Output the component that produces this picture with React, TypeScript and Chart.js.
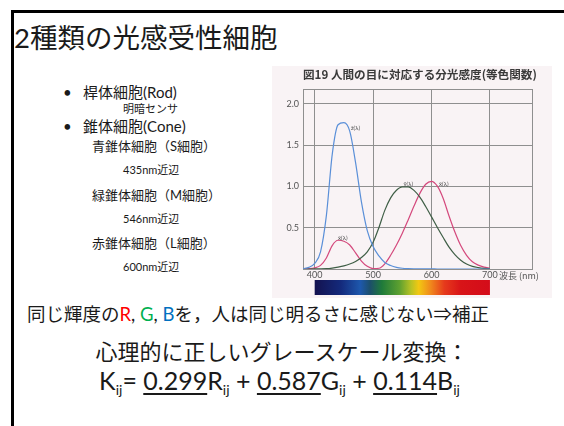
import React, { useEffect, useRef } from "react";
import { Chart, registerables } from "chart.js";

Chart.register(...registerables);

// ---- data ----
const WAVELENGTHS = [380, 390, 400, 410, 420, 430, 440, 450, 460, 470, 480, 490, 500, 510, 520, 530, 540, 550, 560, 570, 580, 590, 600, 610, 620, 630, 640, 650, 660, 670, 680, 690, 700];
const X_BAR = [0.001, 0.004, 0.014, 0.044, 0.134, 0.284, 0.348, 0.336, 0.291, 0.195, 0.096, 0.032, 0.005, 0.009, 0.063, 0.166, 0.29, 0.433, 0.594, 0.762, 0.916, 1.026, 1.062, 1.003, 0.854, 0.642, 0.448, 0.284, 0.165, 0.087, 0.047, 0.023, 0.011];
const Y_BAR = [0, 0.0001, 0.0004, 0.0012, 0.004, 0.0116, 0.023, 0.038, 0.06, 0.091, 0.139, 0.208, 0.323, 0.503, 0.71, 0.862, 0.954, 0.995, 0.995, 0.952, 0.87, 0.757, 0.631, 0.503, 0.381, 0.265, 0.175, 0.107, 0.061, 0.032, 0.017, 0.008, 0.004];
const Z_BAR = [0.006, 0.02, 0.068, 0.207, 0.646, 1.386, 1.747, 1.772, 1.669, 1.288, 0.813, 0.465, 0.272, 0.158, 0.078, 0.042, 0.02, 0.009, 0.004, 0.002, 0.002, 0.001, 0.001, 0, 0, 0, 0, 0, 0, 0, 0, 0, 0];
const X_TICKS = [400, 500, 600, 700];
const Y_TICKS = [0.5, 1.0, 1.5, 2.0];
const X_MIN = 380;
const X_MAX = 772;
const Y_MIN = 0;
const Y_MAX = 2.18;
const CURVE_LABELS = [
  { text: "z̄(λ)", x: 462, y: 1.71 },
  { text: "ȳ(λ)", x: 552, y: 1.03 },
  { text: "x̄(λ)", x: 613, y: 1.03 },
  { text: "x̄(λ)", x: 440, y: 0.38 },
];
const CHART_TITLE = "図19 人間の目に対応する分光感度(等色関数)";
const AXIS_UNIT = "波長 (nm)";
const SPECTRUM_FROM = 400;
const SPECTRUM_TO = 700;
const SPECTRUM_STOPS: [number, string][] = [
  [400, "#14124f"],
  [445, "#142a7c"],
  [478, "#1e58ad"],
  [495, "#1c4f6a"],
  [515, "#1f7a3a"],
  [545, "#5da030"],
  [565, "#b8c224"],
  [578, "#f2c812"],
  [598, "#f08a1c"],
  [622, "#e63a1c"],
  [650, "#d81418"],
  [700, "#d40c1a"],
];

const CJK = '"Noto Sans CJK JP", sans-serif';
const LATIN = 'Lato, "Noto Sans CJK JP", sans-serif';

const overlayPlugin = {
  id: "overlay",
  beforeDraw(chart: any) {
    const ctx = chart.ctx;
    ctx.save();
    ctx.fillStyle = "#f9f3f5";
    ctx.fillRect(0, 0, chart.width, chart.height);
    ctx.restore();
  },
  afterDraw(chart: any) {
    const ctx = chart.ctx;
    const xs = chart.scales.x;
    const ys = chart.scales.y;
    const area = chart.chartArea;
    ctx.save();
    // title
    ctx.fillStyle = "#3a3a3a";
    ctx.font = `bold 11.6px ${CJK}`;
    ctx.textBaseline = "middle";
    ctx.textAlign = "left";
    ctx.fillText(CHART_TITLE, area.left, 9);
    // curve labels
    ctx.fillStyle = "#555";
    ctx.font = `6px ${LATIN}`;
    ctx.textAlign = "left";
    for (const l of CURVE_LABELS) {
      ctx.fillText(l.text, xs.getPixelForValue(l.x), ys.getPixelForValue(l.y));
    }
    // axis unit
    ctx.fillStyle = "#555";
    ctx.font = `9px ${CJK}`;
    ctx.textBaseline = "middle";
    ctx.fillText(AXIS_UNIT, xs.getPixelForValue(700) + 9, area.bottom + 7);
    // spectrum bar
    const x0 = xs.getPixelForValue(SPECTRUM_FROM);
    const x1 = xs.getPixelForValue(SPECTRUM_TO);
    const grad = ctx.createLinearGradient(x0, 0, x1, 0);
    for (const [w, c] of SPECTRUM_STOPS) {
      grad.addColorStop((w - SPECTRUM_FROM) / (SPECTRUM_TO - SPECTRUM_FROM), c);
    }
    ctx.fillStyle = grad;
    ctx.fillRect(x0, area.bottom + 11, x1 - x0, 15);
    ctx.restore();
  },
};

function SpectralChart() {
  const ref = useRef<HTMLCanvasElement | null>(null);
  useEffect(() => {
    if (!ref.current) return;
    const mk = (vals: number[]) => WAVELENGTHS.map((w, i) => ({ x: w, y: vals[i] }));
    const common = { pointRadius: 0, borderWidth: 1.2, fill: false, cubicInterpolationMode: "monotone" as const };
    const chart = new Chart(ref.current, {
      type: "line",
      data: {
        datasets: [
          { ...common, data: mk(Z_BAR), borderColor: "#5a8fd8" },
          { ...common, data: mk(Y_BAR), borderColor: "#3f5e46" },
          { ...common, data: mk(X_BAR), borderColor: "#d4487c" },
        ],
      },
      options: {
        animation: false,
        responsive: false,
        maintainAspectRatio: false,
        layout: { padding: { top: 23, right: 20, left: 0, bottom: 0 } },
        plugins: { legend: { display: false }, tooltip: { enabled: false }, title: { display: false } },
        scales: {
          x: {
            type: "linear",
            min: X_MIN,
            max: X_MAX,
            afterBuildTicks: (s: any) => {
              s.ticks = [X_MIN, ...X_TICKS, X_MAX].map((v) => ({ value: v }));
            },
            afterFit: (s: any) => {
              s.height = 29;
            },
            ticks: {
              autoSkip: false,
              maxRotation: 0,
              padding: 1,
              color: "#555",
              font: { size: 9, family: "Lato, sans-serif" },
              callback: (v: any) => (X_TICKS.includes(Number(v)) ? String(v) : ""),
            },
            grid: { color: (c: any) => (c.tick && c.tick.value === X_MIN ? "rgba(0,0,0,0)" : "#8f8f8f"), drawTicks: false, lineWidth: 1 },
            border: { display: true, color: "#8f8f8f" },
          },
          y: {
            type: "linear",
            min: Y_MIN,
            max: Y_MAX,
            afterBuildTicks: (s: any) => {
              s.ticks = [Y_MIN, ...Y_TICKS, Y_MAX].map((v) => ({ value: v }));
            },
            afterFit: (s: any) => {
              s.width = 31;
            },
            ticks: {
              padding: 4,
              color: "#555",
              font: { size: 9, family: "Lato, sans-serif" },
              callback: (v: any) => (Y_TICKS.includes(Number(v)) ? Number(v).toFixed(1) : ""),
            },
            grid: { color: "#8f8f8f", drawTicks: false, lineWidth: 1 },
            border: { display: true, color: "#8f8f8f" },
          },
        },
      },
      plugins: [overlayPlugin],
    });
    return () => chart.destroy();
  }, []);
  return (
    <canvas
      ref={ref}
      width={280}
      height={232}
      style={{ position: "absolute", left: 272, top: 66, width: 280, height: 232 }}
    />
  );
}

function T(props: { x: number; cy: number; size: number; children: React.ReactNode; style?: React.CSSProperties }) {
  return (
    <div
      style={{
        position: "absolute",
        left: props.x,
        top: props.cy - props.size * 0.6,
        fontSize: props.size,
        lineHeight: `${props.size * 1.2}px`,
        whiteSpace: "nowrap",
        color: "#1a1a1a",
        ...props.style,
      }}
    >
      {props.children}
    </div>
  );
}

export default function App() {
  const sub = { fontSize: 14, verticalAlign: "-5px" } as React.CSSProperties;
  const u = { textDecoration: "underline", textDecorationThickness: "2px", textUnderlineOffset: "3px" } as React.CSSProperties;
  return (
    <div
      style={{
        position: "fixed",
        left: 0,
        top: 0,
        width: 564,
        height: 426,
        background: "#fff",
        overflow: "hidden",
        fontFamily: LATIN,
      }}
    >
      <div
        style={{
          position: "absolute",
          left: 11,
          top: 10,
          width: 700,
          height: 600,
          borderLeft: "3px solid #000",
          borderTop: "3px solid #000",
        }}
      />
      <T x={14} cy={37} size={27.5}>2種類の光感受性細胞</T>
      <T x={63} cy={92} size={15}>•</T>
      <T x={83} cy={92} size={15}>桿体細胞(Rod)</T>
      <T x={123} cy={109} size={11}>明暗センサ</T>
      <T x={63} cy={126} size={15}>•</T>
      <T x={83} cy={126} size={15}>錐体細胞(Cone)</T>
      <T x={92} cy={147} size={13}>青錐体細胞（S細胞）</T>
      <T x={123} cy={170} size={11}>435nm近辺</T>
      <T x={92} cy={196} size={13}>緑錐体細胞（M細胞）</T>
      <T x={123} cy={219} size={11}>546nm近辺</T>
      <T x={92} cy={244} size={13}>赤錐体細胞（L細胞）</T>
      <T x={123} cy={267} size={11}>600nm近辺</T>
      <SpectralChart />
      <T x={27} cy={314} size={18.5}>
        同じ輝度の<span style={{ color: "#ff0000" }}>R</span>, <span style={{ color: "#00b050" }}>G</span>,{" "}
        <span style={{ color: "#0070c0" }}>B</span>を，人は同じ明るさに感じない⇒補正
      </T>
      <div
        style={{
          position: "absolute",
          left: 0,
          width: 564,
          top: 352 - 13,
          fontSize: 22,
          lineHeight: "26px",
          textAlign: "center",
          whiteSpace: "nowrap",
          color: "#1a1a1a",
        }}
      >
        心理的に正しいグレースケール変換：
      </div>
      <div
        style={{
          position: "absolute",
          left: 0,
          width: 559,
          top: 380 - 14,
          fontSize: 25,
          lineHeight: "28px",
          textAlign: "center",
          whiteSpace: "nowrap",
          color: "#1a1a1a",
        }}
      >
        K<span style={sub}>ij</span>= <span style={u}>0.299</span>R<span style={sub}>ij</span> +{" "}
        <span style={u}>0.587</span>G<span style={sub}>ij</span> + <span style={u}>0.114</span>B
        <span style={sub}>ij</span>
      </div>
    </div>
  );
}
